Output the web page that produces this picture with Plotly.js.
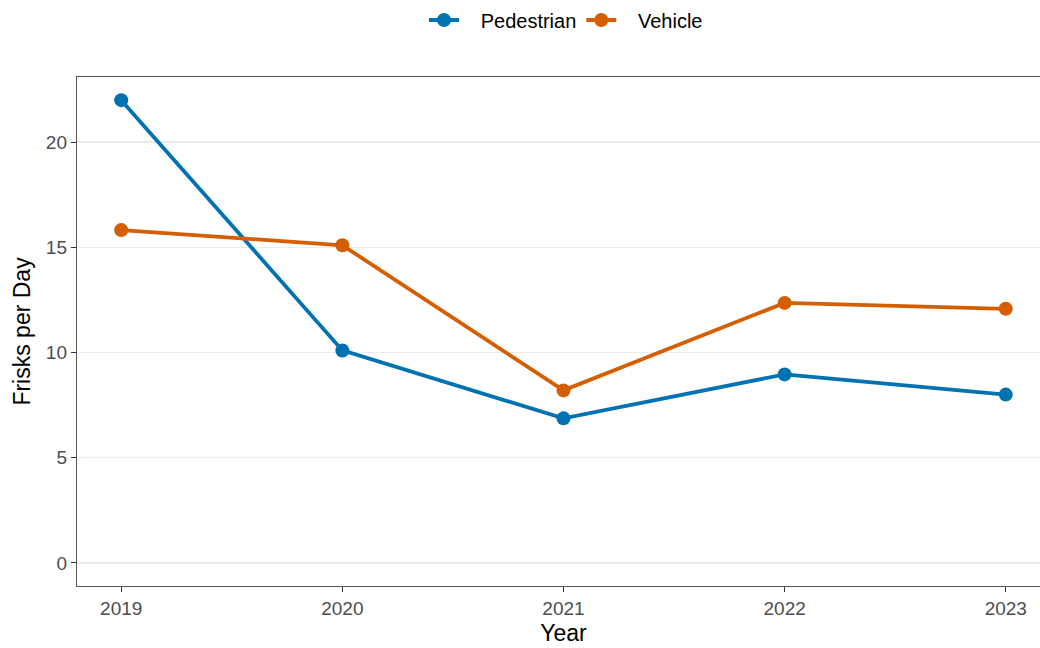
<!DOCTYPE html>
<html>
<head>
<meta charset="utf-8">
<script src="https://cdn.plot.ly/plotly-3.0.1.min.js"></script>
<style>html,body{margin:0;padding:0;overflow:hidden;background:#fff;}#chart{width:1060px;height:648px;}</style>
</head>
<body>
<div id="chart"></div>
<script>
const years = [2019, 2020, 2021, 2022, 2023];
const pedestrian = [22.0, 10.1, 6.87, 8.96, 8.0];
const vehicle = [15.82, 15.1, 8.2, 12.36, 12.08];
const seriesNames = ["Pedestrian", "Vehicle"];
const yTicks = [0, 5, 10, 15, 20];

const colors = ["#0072B2", "#D55E00"];
const pad = "\u00A0\u00A0\u00A0";
const traces = [pedestrian, vehicle].map((vals, i) => ({
  x: years, y: vals, name: pad + seriesNames[i], type: "scatter", mode: "lines+markers",
  line: {color: colors[i], width: 3.8},
  marker: {color: colors[i], size: 14}
}));

const layout = {
  width: 1060, height: 648,
  margin: {l: 77, r: 10, t: 77, b: 62},
  paper_bgcolor: "#fff", plot_bgcolor: "#fff",
  font: {family: "Liberation Sans, Arial, sans-serif", color: "#000"},
  showlegend: true,
  legend: {orientation: "h", xref: "container", x: 566/1060, xanchor: "center",
    yref: "container", y: 1 - 20/648, yanchor: "middle",
    font: {size: 20, color: "#000"}, traceorder: "normal"},
  xaxis: {
    range: [2018.8, 2023.2], tickvals: years, ticktext: years.map(String),
    showgrid: false, zeroline: false, showline: true, linecolor: "#555", linewidth: 1.2, mirror: true,
    ticks: "outside", ticklen: 5, tickcolor: "#333", tickwidth: 1.2,
    tickfont: {size: 19, color: "#4d4d4d"},
    title: {text: "Year", font: {size: 23, color: "#000"}, standoff: 6}
  },
  yaxis: {
    range: [-1.1, 23.1], tickvals: yTicks, ticktext: yTicks.map(String),
    showgrid: true, gridcolor: "#ebebeb", gridwidth: 1.5, zeroline: false,
    showline: true, linecolor: "#555", linewidth: 1.2, mirror: true,
    ticks: "outside", ticklen: 5, tickcolor: "#333", tickwidth: 1.2,
    tickfont: {size: 19, color: "#4d4d4d"},
    title: {text: "Frisks per Day", font: {size: 23, color: "#000"}, standoff: 8}
  }
};

Plotly.newPlot("chart", traces, layout, {displayModeBar: false, staticPlot: true});
</script>
</body>
</html>
